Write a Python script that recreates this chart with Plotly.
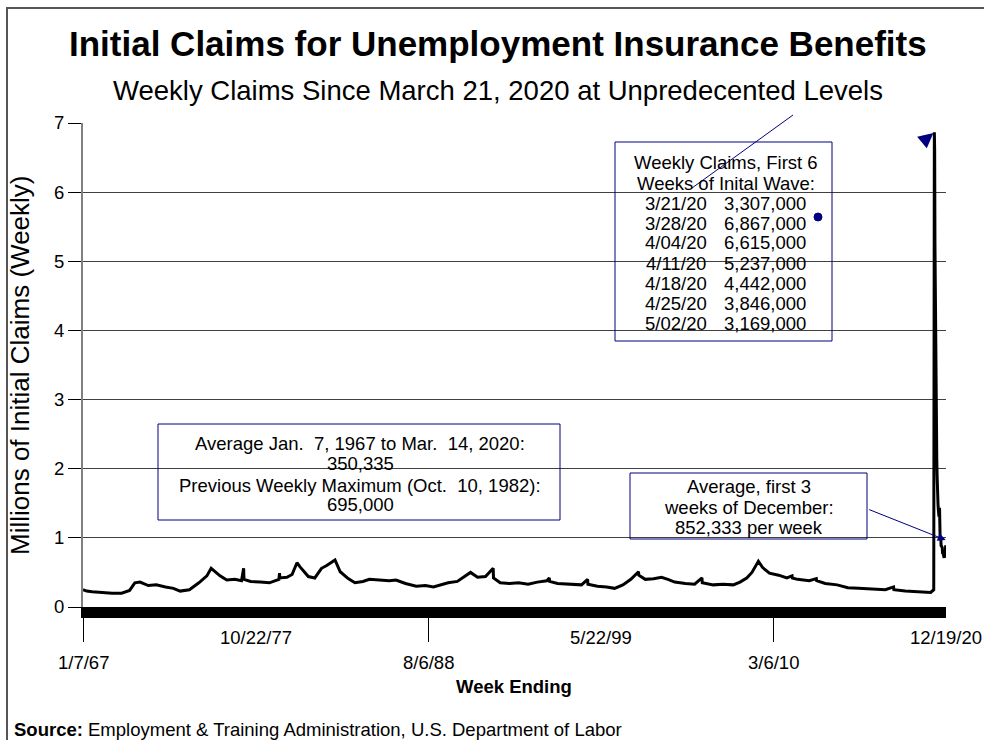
import plotly.graph_objects as go

# ---------------- data (millions of initial claims, weekly) ----------------
dates = [
    "1967-01-07", "1967-04-01", "1967-08-05", "1968-03-02", "1968-11-02", "1969-06-07",
    "1969-12-06", "1970-04-04", "1970-08-01", "1971-02-06", "1971-08-07", "1972-03-04",
    "1972-09-02", "1973-02-03", "1973-09-01", "1974-04-06", "1974-10-05", "1975-01-11",
    "1975-05-03", "1975-08-02", "1976-01-03", "1976-07-03", "1976-12-04", "1977-01-22",
    "1977-01-29", "1977-07-02", "1978-02-04", "1978-09-02", "1979-04-07", "1979-04-21",
    "1979-04-28", "1979-10-06", "1980-02-02", "1980-05-24", "1980-08-02", "1981-02-07",
    "1981-07-04", "1981-12-05", "1982-04-03", "1982-10-09", "1983-02-05", "1983-08-06",
    "1984-01-07", "1984-07-07", "1984-12-01", "1985-07-06", "1986-03-01", "1986-08-02",
    "1987-03-07", "1987-11-07", "1988-06-04", "1988-12-03", "1989-06-03", "1989-11-04",
    "1990-06-02", "1990-12-01", "1991-03-30", "1991-09-07", "1992-03-07", "1992-08-29",
    "1992-09-05", "1993-02-06", "1993-09-04", "1994-04-02", "1994-11-05", "1995-06-03",
    "1996-01-06", "1996-03-02", "1996-03-09", "1996-09-07", "1997-06-07", "1998-03-07",
    "1998-07-25", "1998-08-01", "1999-03-06", "1999-10-02", "2000-04-01", "2000-10-07",
    "2001-04-07", "2001-09-29", "2001-10-06", "2002-03-02", "2002-09-07", "2003-03-08",
    "2003-08-02", "2004-01-03", "2004-09-04", "2005-04-02", "2005-09-17", "2005-09-24",
    "2006-06-03", "2007-01-06", "2007-09-01", "2008-02-02", "2008-07-05", "2008-11-01",
    "2009-03-28", "2009-07-04", "2009-12-05", "2010-07-03", "2011-01-08", "2011-05-07",
    "2011-05-14", "2011-09-03", "2012-06-02", "2012-11-10", "2012-11-17", "2013-06-01",
    "2014-03-01", "2014-11-01", "2015-07-04", "2016-06-04", "2017-03-04", "2017-09-09",
    "2017-09-16", "2018-06-02", "2019-01-05", "2019-09-07", "2020-01-04", "2020-03-14",
    "2020-03-21", "2020-03-28", "2020-04-04", "2020-04-11", "2020-04-18", "2020-04-25",
    "2020-05-02", "2020-05-09", "2020-05-16", "2020-05-23", "2020-05-30", "2020-06-06",
    "2020-06-13", "2020-06-20", "2020-06-27", "2020-07-04", "2020-07-11", "2020-07-18",
    "2020-07-25", "2020-08-01", "2020-08-08", "2020-08-15", "2020-08-22", "2020-08-29",
    "2020-09-05", "2020-09-12", "2020-09-19", "2020-09-26", "2020-10-03", "2020-10-10",
    "2020-10-17", "2020-10-24", "2020-10-31", "2020-11-07", "2020-11-14", "2020-11-21",
    "2020-11-28", "2020-12-05", "2020-12-12", "2020-12-19",
]
claims = [
    0.25, 0.23, 0.22, 0.21, 0.20, 0.20,
    0.24, 0.35, 0.36, 0.31, 0.32, 0.29,
    0.27, 0.23, 0.25, 0.35, 0.45, 0.56,
    0.50, 0.45, 0.39, 0.40, 0.38, 0.56,
    0.40, 0.37, 0.36, 0.35, 0.40, 0.49,
    0.42, 0.43, 0.47, 0.64, 0.58, 0.44,
    0.42, 0.56, 0.60, 0.68, 0.51, 0.41,
    0.35, 0.37, 0.40, 0.39, 0.38, 0.39,
    0.34, 0.30, 0.31, 0.29, 0.32, 0.35,
    0.37, 0.45, 0.50, 0.43, 0.44, 0.56,
    0.42, 0.35, 0.34, 0.35, 0.33, 0.36,
    0.38, 0.42, 0.37, 0.34, 0.33, 0.32,
    0.40, 0.33, 0.30, 0.29, 0.27, 0.32,
    0.40, 0.51, 0.46, 0.40, 0.41, 0.43,
    0.40, 0.36, 0.34, 0.33, 0.42, 0.35,
    0.32, 0.33, 0.32, 0.36, 0.42, 0.50,
    0.66, 0.57, 0.49, 0.46, 0.42, 0.45,
    0.42, 0.40, 0.38, 0.41, 0.38, 0.34,
    0.32, 0.28, 0.27, 0.26, 0.25, 0.29,
    0.25, 0.23, 0.22, 0.21, 0.21, 0.25,
    3.307, 6.867, 6.615, 5.237, 4.442, 3.846,
    3.169, 2.849, 2.446, 2.123, 1.897, 1.566,
    1.540, 1.482, 1.413, 1.310, 1.307, 1.416,
    1.434, 1.186, 0.963, 1.104, 1.006, 0.881,
    0.884, 0.866, 0.873, 0.849, 0.767, 0.842,
    0.778, 0.746, 0.738, 0.711, 0.748, 0.787,
    0.716, 0.853, 0.892, 0.812,
]

tick_dates = ["1967-01-07", "1977-10-22", "1988-08-06", "1999-05-22", "2010-03-06", "2020-12-19"]
tick_labels = ["1/7/67", "10/22/77", "8/6/88", "5/22/99", "3/6/10", "12/19/20"]

table_header = ["Weekly Claims, First 6", "Weeks of Inital Wave:"]
table_dates = ["3/21/20", "3/28/20", "4/04/20", "4/11/20", "4/18/20", "4/25/20", "5/02/20"]
table_values = ["3,307,000", "6,867,000", "6,615,000", "5,237,000", "4,442,000", "3,846,000", "3,169,000"]

avg_lines = ["Average Jan.  7, 1967 to Mar.  14, 2020:", "350,335",
             "Previous Weekly Maximum (Oct.  10, 1982):", "695,000"]
dec_lines = ["Average, first 3", "weeks of December:", "852,333 per week"]

# ---------------- layout helpers (pixel -> paper) ----------------
L, R, T, B = 83, 946, 123, 607
W, H = R - L, B - T


def px(x):
    return (x - L) / W


def py(y):
    return (B - y) / H


FONT = "Liberation Sans, Arial, sans-serif"
NAVY = "#000080"
FS = 18.5


def txt(x, y, text, size=FS, xanchor="center", xref="paper", angle=0):
    return dict(x=x, y=y, xref=xref, yref="paper", showarrow=False, text=text,
                xanchor=xanchor, yanchor="middle", textangle=angle,
                font=dict(size=size, family=FONT, color="black"))


fig = go.Figure()
fig.add_trace(go.Scatter(x=dates, y=claims, mode="lines",
                         line=dict(color="black", width=3), hoverinfo="skip",
                         showlegend=False))

ann = []
ann.append(txt(px(498), py(43), "<b>Initial Claims for Unemployment Insurance Benefits</b>", size=35))
ann.append(txt(px(498), py(90), "Weekly Claims Since March 21, 2020 at Unpredecented Levels", size=27.5))
ann.append(txt(px(20), py(365), "Millions of Initial Claims (Weekly)", size=26, angle=-90))
ann.append(txt(px(514), py(686), "<b>Week Ending</b>"))
ann.append(txt(px(12), py(729),
               "<b>Source:</b> Employment & Training Administration, U.S. Department of Labor",
               xanchor="left"))

# staggered x tick labels
for i, (d, lab) in enumerate(zip(tick_dates, tick_labels)):
    ann.append(txt(d, py(662 if i % 2 == 0 else 637), lab, xref="x"))

# table box text
for k, t in enumerate(table_header):
    ann.append(txt(px(726), py(163 + 20 * k), t))
for k, (d, v) in enumerate(zip(table_dates, table_values)):
    yy = py(203 + 20 * k)
    ann.append(txt(px(676), yy, d))
    ann.append(txt(px(765), yy, v))

for k, t in enumerate(avg_lines):
    ann.append(txt(px(360), py([443, 463, 485, 504][k]), t))
for k, t in enumerate(dec_lines):
    ann.append(txt(px(749), py(487 + 20 * k), t))

# arrows
ann.append(dict(x="2020-12-12", y=(B - 540) / H * 7, xref="x", yref="y", text="",
                showarrow=True, arrowhead=2, arrowsize=1.6, arrowwidth=1,
                arrowcolor=NAVY, ax=-78, ay=-31))
ann.append(dict(x="2020-03-08", y=(B - 133) / H * 7, xref="x", yref="y", text="",
                showarrow=True, arrowhead=2, arrowsize=2, arrowwidth=1.5,
                arrowcolor=NAVY, ax=-12, ay=10))

shapes = [
    # outer chart border
    dict(type="rect", xref="paper", yref="paper", x0=px(7), x1=px(995), y0=py(750), y1=py(8),
         line=dict(color="#555555", width=2), fillcolor="rgba(0,0,0,0)", layer="below"),
    # boxes
    dict(type="rect", xref="paper", yref="paper", x0=px(615), x1=px(832), y0=py(341), y1=py(142),
         line=dict(color=NAVY, width=1)),
    dict(type="rect", xref="paper", yref="paper", x0=px(158), x1=px(560), y0=py(520), y1=py(424),
         line=dict(color=NAVY, width=1)),
    dict(type="rect", xref="paper", yref="paper", x0=px(630), x1=px(867), y0=py(539), y1=py(473),
         line=dict(color=NAVY, width=1)),
    # leader line
    dict(type="line", xref="paper", yref="paper", x0=px(692), y0=py(188), x1=px(793), y1=py(115),
         line=dict(color=NAVY, width=1)),
    # stray dot
    dict(type="circle", xref="paper", yref="paper", x0=px(814), x1=px(822), y0=py(221), y1=py(213),
         line=dict(color=NAVY, width=1), fillcolor=NAVY),
]

fig.update_layout(
    width=984, height=740,
    margin=dict(l=L, r=984 - R, t=T, b=740 - B),
    paper_bgcolor="white", plot_bgcolor="white",
    font=dict(family=FONT, color="black", size=FS),
    annotations=ann, shapes=shapes, showlegend=False,
    xaxis=dict(type="date", range=["1967-01-07", "2020-12-19"], showgrid=False,
               zeroline=False, showline=True, linewidth=11, linecolor="black",
               tickvals=tick_dates[0::2], ticks="outside", ticklen=24, tickwidth=1,
               tickcolor="black", showticklabels=False),
    yaxis=dict(range=[0, 7], dtick=1, showgrid=True, gridcolor="#404040", gridwidth=1,
               zeroline=False, showline=True, linewidth=2, linecolor="#808080",
               ticks="outside", ticklen=13, tickcolor="black",
               tickfont=dict(size=FS, family=FONT, color="black")),
)

fig.write_html("out.html", config={"displayModeBar": False},
               post_script="document.body.style.margin='0';document.body.style.overflow='hidden';")
